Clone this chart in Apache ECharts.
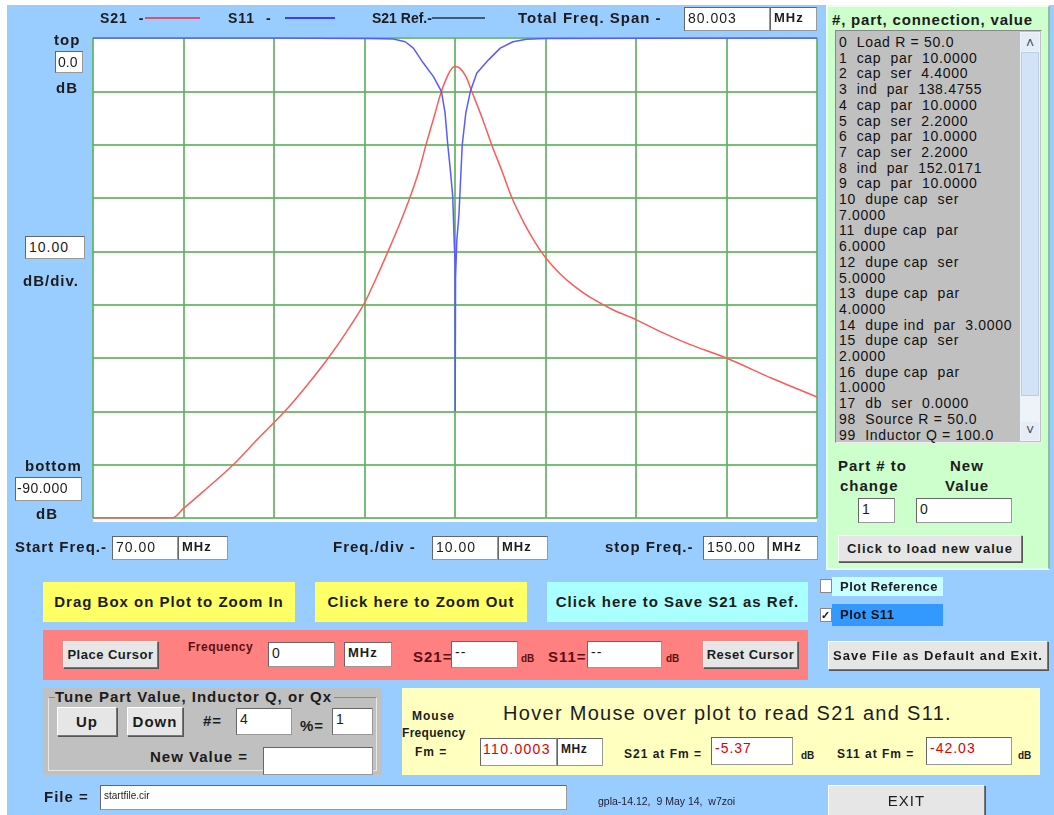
<!DOCTYPE html>
<html>
<head>
<meta charset="utf-8">
<script src="https://cdn.jsdelivr.net/npm/echarts@6/dist/echarts.min.js"></script>
<style>
  body { margin: 0; width: 1054px; height: 815px; background: #fff; position: relative; overflow: hidden;
         font-family: "Liberation Sans", Arial, sans-serif; color: #1c1c1c; }
  .a { position: absolute; box-sizing: border-box; white-space: pre; }
  .lbl { font-weight: bold; font-size: 15px; line-height: 16px; letter-spacing: 1px; }
  .box { background: #fff; border: 1px solid #999; border-top-color: #666; border-left-color: #666;
         font-size: 14px; letter-spacing: 1px; padding: 2px 3px; line-height: 16px; overflow: hidden; }
  .btn { background: #e6e6e6; border: 1px solid #fff; border-right-color: #777; border-bottom-color: #777;
         box-shadow: 1px 1px 0 #555; font-weight: bold; font-size: 13px; letter-spacing: 1px; text-align: center; }
  #chart { position: absolute; left: 0; top: 0; width: 1054px; height: 815px; }
</style>
</head>
<body>
<div class="a" style="left:7px;top:5px;width:1047px;height:810px;background:#99ccff"></div>
<div class="a" style="left:93px;top:37px;width:724px;height:485px;background:#fff"></div>
<div id="chart"></div>
<div id="ui"></div>
<script>
// S21 (transmission), dB vs MHz
const freqS21 = [70, 78.7, 80, 82.2, 85.5, 88.3, 91.2, 93.7, 96, 98.05, 99.9, 101.3, 102.6, 103.85, 105, 106,
  106.8, 107.65, 108.5, 109.2, 109.7, 110, 110.5, 111.2, 111.85, 113, 114.05, 115.2, 116.3, 117.6, 118.6, 119.5,
  120.5, 121.6, 123, 125, 127.5, 130, 133, 136, 140, 145, 150];
const s21 = [-90, -90, -88.2, -85, -80, -75, -70, -65, -60, -55, -50, -45, -40, -35, -30, -25,
  -20, -15, -10, -7, -5.6, -5.37, -5.6, -7.2, -10, -15, -20, -25, -30, -34.6, -37.6, -40,
  -42.2, -44.2, -46.3, -48.7, -51, -52.8, -55.3, -57.5, -60, -63.8, -67.3];

// S11 (reflection)
const freqS11 = [70, 80, 90, 95, 100, 102, 103.2, 104.5, 105.4, 106.5, 107.6, 108.5, 108.9, 109.2, 109.5,
  109.75, 109.93, 110.0, 110.02, 110.06, 110.2, 110.44, 110.8, 111.2, 111.7, 112.4, 113.7, 115, 116.4, 117.9,
  120, 130, 150];
const s11 = [0, 0, -0.02, -0.05, -0.08, -0.15, -0.2, -0.7, -1.9, -4.7, -7.2, -10, -14, -20, -25,
  -29.7, -39, -42, -70, -45, -38, -33, -20, -14, -10, -6.6, -4.1, -1.9, -0.7, -0.25,
  -0.1, -0.03, 0];

const parts = [
  '0  Load R = 50.0', '1  cap  par  10.0000', '2  cap  ser  4.4000', '3  ind  par  138.4755',
  '4  cap  par  10.0000', '5  cap  ser  2.2000', '6  cap  par  10.0000', '7  cap  ser  2.2000',
  '8  ind  par  152.0171', '9  cap  par  10.0000', '10  dupe cap  ser', '7.0000', '11  dupe cap  par',
  '6.0000', '12  dupe cap  ser', '5.0000', '13  dupe cap  par', '4.0000', '14  dupe ind  par  3.0000',
  '15  dupe cap  ser', '2.0000', '16  dupe cap  par', '1.0000', '17  db  ser  0.0000',
  '98  Source R = 50.0', '99  Inductor Q = 100.0'
];

const ui = document.getElementById('ui');
function el(cls, x, y, w, h, text, css) {
  const d = document.createElement('div');
  d.className = 'a ' + cls;
  d.style.left = x + 'px';
  d.style.top = y + 'px';
  if (w) d.style.width = w + 'px';
  if (h) d.style.height = h + 'px';
  if (text) d.textContent = text;
  if (css) d.style.cssText += css;
  ui.appendChild(d);
  return d;
}
const lbl = (x, y, t, css) => el('lbl', x, y - 8, 0, 0, t, css);
const box = (x, y, w, h, t, css) => el('box', x, y, w, h, t, css);
const btn = (x, y, w, h, t, css) => el('btn', x, y, w, h, t, 'line-height:' + (h - 2) + 'px;' + (css || ''));
const small = 'font-size:12px;letter-spacing:1px';

// top legend row
lbl(100, 18, 'S21 -', 'font-size:14px;word-spacing:6px');
el('', 145, 17, 55, 2, '', 'background:#e0506a');
lbl(228, 18, 'S11 -', 'font-size:14px;word-spacing:6px');
el('', 285, 17, 50, 2, '', 'background:#3c3cff');
lbl(372, 18, 'S21 Ref.-', 'font-size:14px;letter-spacing:0');
el('', 432, 17, 53, 2, '', 'background:#3f5a78');
lbl(518, 18, 'Total Freq. Span -');
box(684, 7, 86, 24, '80.003');
box(770, 7, 47, 24, 'MHz', 'font-weight:bold;font-size:13px');

// left scale inputs
lbl(54, 40, 'top');
box(55, 51, 28, 22, '0.0', 'padding:2px 2px;letter-spacing:0');
lbl(56, 88, 'dB');
box(25, 236, 60, 23, '10.00');
lbl(23, 281, 'dB/div.');
lbl(25, 466, 'bottom');
box(15, 477, 67, 24, '-90.000', 'letter-spacing:0.5px;padding:2px 1px');
lbl(36, 514, 'dB');

// frequency row
lbl(15, 547, 'Start Freq.-');
box(112, 536, 66, 24, '70.00');
box(178, 536, 50, 24, 'MHz', 'font-weight:bold;font-size:13px');
lbl(333, 547, 'Freq./div -');
box(432, 536, 66, 24, '10.00');
box(498, 536, 50, 24, 'MHz', 'font-weight:bold;font-size:13px');
lbl(605, 547, 'stop Freq.-');
box(703, 536, 65, 24, '150.00');
box(768, 536, 50, 24, 'MHz', 'font-weight:bold;font-size:13px');

// action buttons
const big = 'font-size:15px;font-weight:bold;letter-spacing:1px;text-align:center;line-height:40px;';
el('', 43, 582, 252, 40, 'Drag Box on Plot to Zoom In', big + 'background:#ffff66');
el('', 315, 582, 212, 40, 'Click here to Zoom Out', big + 'background:#ffff66');
el('', 547, 582, 261, 40, 'Click here to Save S21 as Ref.', big + 'background:#aaffff');

// cursor bar
el('', 43, 630, 765, 50, '', 'background:#ff8080');
btn(63, 641, 95, 27, 'Place Cursor', 'letter-spacing:0.5px');
lbl(188, 647, 'Frequency', 'font-size:12px;letter-spacing:0.5px;color:#5a1010');
box(268, 642, 67, 25, '0');
box(344, 642, 48, 25, 'MHz', 'font-weight:bold;font-size:13px');
lbl(413, 657, 'S21=', 'color:#5a1010');
box(451, 641, 67, 27, '--');
lbl(521, 659, 'dB', 'font-size:10px;letter-spacing:0;color:#5a1010');
lbl(548, 657, 'S11=', 'color:#5a1010');
box(587, 641, 75, 27, '--');
lbl(666, 659, 'dB', 'font-size:10px;letter-spacing:0;color:#5a1010');
btn(703, 641, 95, 27, 'Reset Cursor', 'letter-spacing:0.5px');

// tune group
el('', 43, 688, 339, 87, '', 'background:#c0c0c0');
el('', 48, 697, 329, 74, '', 'border:1px solid #e8e8e8;border-top:1px solid #888');
lbl(55, 697, 'Tune Part Value, Inductor Q, or Qx', 'background:#c0c0c0;padding-right:2px');
btn(57, 707, 60, 29, 'Up', 'font-size:15px');
btn(127, 707, 56, 29, 'Down', 'font-size:15px');
lbl(203, 721, '#=');
box(236, 708, 56, 27, '4');
lbl(300, 726, '%=');
box(332, 708, 41, 27, '1');
lbl(150, 757, 'New Value =');
box(263, 747, 110, 28, '');

// hover readout
el('', 402, 688, 638, 87, '', 'background:#ffffc0');
el('', 503, 702, 0, 0, 'Hover Mouse over plot to read S21 and S11.', 'font-size:20px;letter-spacing:1.3px;line-height:22px');
lbl(412, 716, 'Mouse', small);
lbl(402, 733, 'Frequency', 'font-size:12px;letter-spacing:0.3px');
lbl(415, 752, 'Fm =', small);
box(480, 738, 77, 28, '110.0003', 'color:#e00000;letter-spacing:1.3px;padding:2px 2px');
box(557, 738, 46, 28, 'MHz', 'font-weight:bold;font-size:12px;letter-spacing:0.5px');
lbl(624, 754, 'S21 at Fm =', small);
box(711, 737, 82, 28, '-5.37', 'color:#e00000');
lbl(801, 756, 'dB', 'font-size:10px;letter-spacing:0');
lbl(837, 754, 'S11 at Fm =', small);
box(926, 737, 86, 28, '-42.03', 'color:#e00000');
lbl(1018, 756, 'dB', 'font-size:10px;letter-spacing:0');

// file row
lbl(44, 797, 'File =');
box(100, 785, 467, 25, 'startfile.cir', 'font-size:10px;letter-spacing:0');
el('', 598, 795, 0, 0, 'gpla-14.12,  9 May 14,  w7zoi', 'font-size:10.5px;color:#223');
btn(828, 785, 157, 32, 'EXIT', 'font-weight:normal;font-size:15px');

// parts panel
el('', 826, 5, 224, 565, '', 'background:#ccffcc;border:2px solid #e8fff0;border-right-color:#8fbf9f');
lbl(832, 20, '#, part, connection, value', 'letter-spacing:0.8px');
el('', 835, 30, 207, 413, '', 'background:#c0c0c0;border:1px solid #888;border-right-color:#eee;border-bottom-color:#eee');
parts.forEach((p, i) => el('', 839, 34 + i * 15.7, 0, 0, p, 'font-size:14px;letter-spacing:0.7px;line-height:16px;color:#111'));
el('', 1020, 32, 20, 409, '', 'background:#eef3fa');
el('', 1021, 52, 18, 344, '', 'background:#d2e2f7;border:1px solid #b9cce8');
el('', 1021, 33, 18, 18, '\u02c4', 'text-align:center;font-size:14px;line-height:20px;color:#445;background:#e4ecf6');
el('', 1021, 422, 18, 18, '\u02c5', 'text-align:center;font-size:14px;line-height:16px;color:#445;background:#e4ecf6');
lbl(838, 466, 'Part # to');
lbl(840, 486, 'change');
lbl(950, 466, 'New');
lbl(945, 486, 'Value');
box(858, 498, 37, 25, '1');
box(916, 498, 96, 25, '0');
btn(838, 535, 184, 27, 'Click to load new value');

// check boxes
el('', 820, 579, 12, 14, '', 'background:#fff;border:1px solid #888');
el('', 832, 577, 111, 19, 'Plot Reference', 'background:#c8ffff;font-weight:bold;font-size:13px;letter-spacing:0.5px;line-height:19px;padding-left:8px');
el('', 820, 608, 12, 14, '\u2713', 'background:#fff;border:1px solid #888;font-size:11px;line-height:12px;font-weight:bold');
el('', 832, 604, 111, 22, 'Plot S11', 'background:#3399ff;font-weight:bold;font-size:13px;letter-spacing:0.5px;line-height:22px;padding-left:8px;color:#111');
btn(828, 641, 220, 29, 'Save File as Default and Exit.');

const chart = echarts.init(document.getElementById('chart'));
chart.setOption({
  animation: false,
  grid: { left: 93, top: 38, width: 724, height: 480, show: false },
  xAxis: {
    type: 'value', min: 70, max: 150, interval: 10,
    axisLine: { show: false }, axisTick: { show: false }, axisLabel: { show: false },
    splitLine: { lineStyle: { color: '#5fb35f', width: 2, opacity: 0.85 } }
  },
  yAxis: {
    type: 'value', min: -90, max: 0, interval: 10,
    axisLine: { show: false }, axisTick: { show: false }, axisLabel: { show: false },
    splitLine: { lineStyle: { color: '#5fb35f', width: 2, opacity: 0.85 } }
  },
  series: [
    {
      name: 'S21', type: 'line', showSymbol: false, smooth: 0.3,
      lineStyle: { color: '#ff5a5a', width: 1.5 },
      data: freqS21.map((f, i) => [f, s21[i]])
    },
    {
      name: 'S11', type: 'line', showSymbol: false, smooth: false,
      lineStyle: { color: '#5a5aff', width: 1.5 },
      data: freqS11.map((f, i) => [f, s11[i]])
    }
  ]
});
</script>
</body>
</html>
